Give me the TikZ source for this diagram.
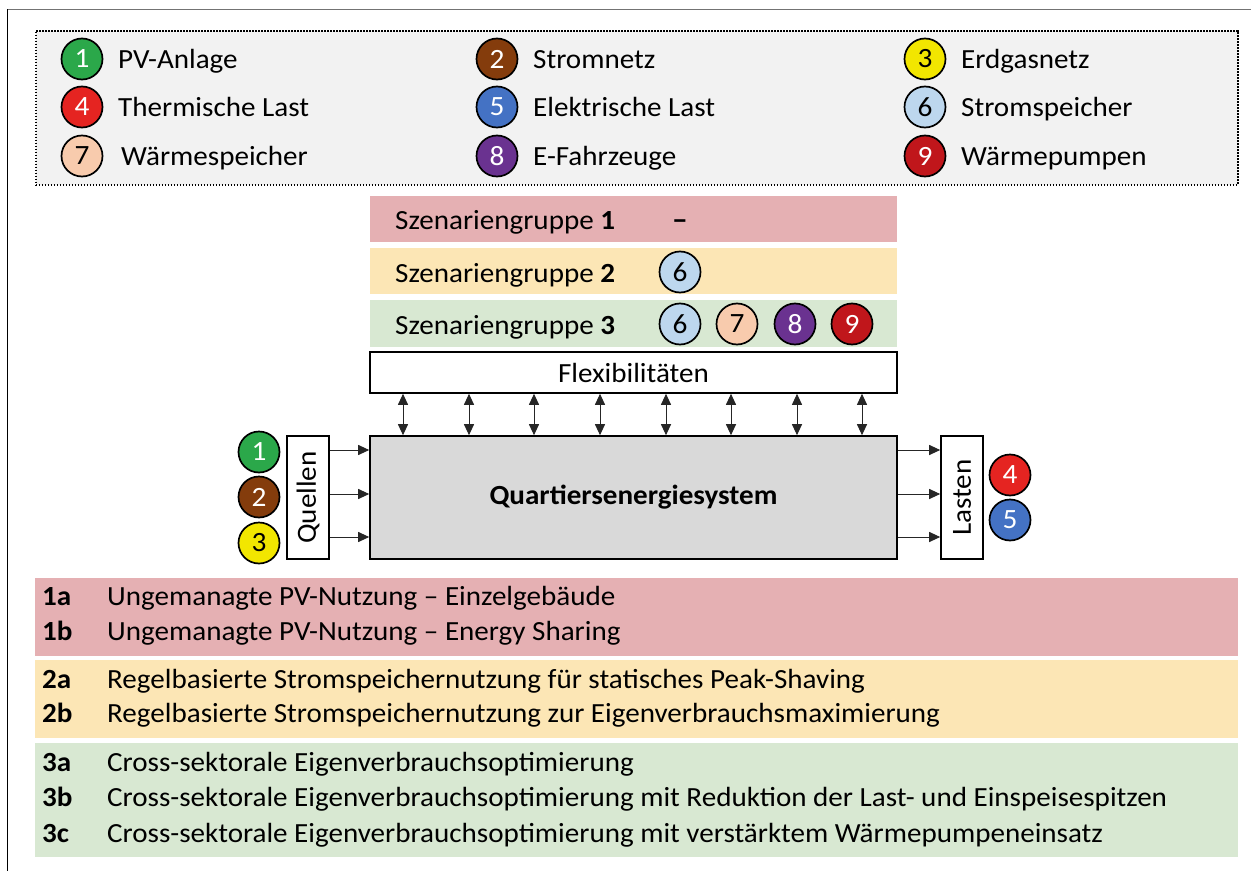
\documentclass[tikz,border=0pt]{standalone}
\usepackage{fontspec}
\setmainfont{Carlito}[FakeStretch=1.05]
\usetikzlibrary{arrows.meta}

\definecolor{cGreen}{HTML}{2BA84A}
\definecolor{cBrown}{HTML}{843C0C}
\definecolor{cYellow}{HTML}{F2E600}
\definecolor{cRed}{HTML}{E52421}
\definecolor{cBlue}{HTML}{4472C4}
\definecolor{cLightBlue}{HTML}{BDD7EE}
\definecolor{cPeach}{HTML}{F8CBAD}
\definecolor{cPurple}{HTML}{6A3290}
\definecolor{cDarkRed}{HTML}{C0161B}
\definecolor{grpOne}{HTML}{E5B0B3}
\definecolor{grpTwo}{HTML}{FCE6B5}
\definecolor{grpThree}{HTML}{D8E8D2}
\definecolor{legendBg}{HTML}{F2F2F2}
\definecolor{systemBg}{HTML}{D9D9D9}

\begin{document}
\begin{tikzpicture}[x=1bp,y=-1bp,
  num/.style={circle, draw=black, line width=1.7bp, minimum size=41bp, inner sep=0pt,
              font=\fontsize{28}{28}\selectfont},
  numw/.style={num, text=white},
  txt/.style={anchor=base west, inner sep=0pt, font=\fontsize{27.8}{30}\selectfont},
  lbl/.style={txt, font=\fontsize{27.8}{30}\selectfont\bfseries},
  band/.style={anchor=north west, inner sep=0pt, minimum width=#1},
  box/.style={draw=black, line width=1.6bp, inner sep=0pt},
  arr/.style={-{Triangle[length=11bp,width=10bp]}, line width=1bp, draw=black!85},
  darr/.style={{Triangle[length=11bp,width=10bp]}-{Triangle[length=11bp,width=10bp]}, line width=1bp, draw=black!85}
]
\useasboundingbox (0,0) rectangle (1251,871);

% frame lines
\draw[line width=1.2bp, draw=black!55] (7,9.5) -- (1251,9.5);
\draw[line width=1.2bp, draw=black] (7.5,9) -- (7.5,871);

% legend
\node[band=1202bp, minimum height=154bp, fill=legendBg, draw=black, line width=1.5bp,
      dash pattern=on 1.5bp off 1.5bp] (legend) at (35,30) {};

\node[numw, fill=cGreen]     (l1) at (82,59)  {1};
\node[numw, fill=cRed]       (l4) at (82,107) {4};
\node[num,  fill=cPeach]     (l7) at (82,156) {7};
\node[numw, fill=cBrown]     (l2) at (497,59)  {2};
\node[numw, fill=cBlue]      (l5) at (497,107) {5};
\node[numw, fill=cPurple]    (l8) at (497,156) {8};
\node[num,  fill=cYellow]    (l3) at (925,59)  {3};
\node[num,  fill=cLightBlue] (l6) at (925,107) {6};
\node[numw, fill=cDarkRed]   (l9) at (925,156) {9};

\node[txt] (t1) at (118,68)  {PV-Anlage};
\node[txt] (t4) at (118,116) {Thermische Last};
\node[txt] (t7) at (121,165) {Wärmespeicher};
\node[txt] (t2) at (533,68)  {Stromnetz};
\node[txt] (t5) at (533,116) {Elektrische Last};
\node[txt] (t8) at (533,165) {E-Fahrzeuge};
\node[txt] (t3) at (961,68)  {Erdgasnetz};
\node[txt] (t6) at (961,116) {Stromspeicher};
\node[txt] (t9) at (961,165) {Wärmepumpen};

% scenario groups
\node[band=527bp, minimum height=46bp, fill=grpOne]   (g1) at (370,196) {};
\node[band=527bp, minimum height=46bp, fill=grpTwo]   (g2) at (370,248) {};
\node[band=527bp, minimum height=47bp, fill=grpThree] (g3) at (370,300) {};

\node[txt] (g1t) at (395,229) {Szenariengruppe \textbf{1}};
\node[txt] (g2t) at (395,282) {Szenariengruppe \textbf{2}};
\node[txt] (g3t) at (395,334) {Szenariengruppe \textbf{3}};

\node[anchor=base, inner sep=0pt, font=\fontsize{30}{30}\selectfont\bfseries] (g1d) at (680,229) {–};
\node[num, fill=cLightBlue] (g2a) at (680,272) {6};
\node[num, fill=cLightBlue] (g3a) at (680,324) {6};
\node[num, fill=cPeach]     (g3b) at (737,324) {7};
\node[numw, fill=cPurple]   (g3c) at (795,324) {8};
\node[numw, fill=cDarkRed]  (g3d) at (852,324) {9};

% flexibilities and system
\node[box, fill=white, minimum width=527bp, minimum height=41bp,
      font=\fontsize{27.8}{30}\selectfont] (flex) at (633.5,372.5) {Flexibilitäten};
\node[box, fill=systemBg, minimum width=527bp, minimum height=123bp,
      font=\fontsize{27.8}{30}\selectfont\bfseries] (sys) at (633.5,497.5) {Quartiersenergiesystem};

\foreach \x [count=\i] in {403,469,534,600,666,731,797,862} {
  \path (\x,0) coordinate (fx\i);
  \draw[darr] (flex.south -| fx\i) -- (sys.north -| fx\i);
}

% sources
\node[box, fill=white, minimum width=42bp, minimum height=123bp] (quellen) at (308,497.5) {};
\node[rotate=90, inner sep=0pt, font=\fontsize{27.8}{30}\selectfont] (quellent) at (quellen.center) {Quellen};
\node[numw, fill=cGreen]  (s1) at (259,452) {1};
\node[numw, fill=cBrown]  (s2) at (259,497) {2};
\node[num,  fill=cYellow] (s3) at (259,543) {3};

% loads
\node[box, fill=white, minimum width=42bp, minimum height=123bp] (lasten) at (962,497.5) {};
\node[rotate=90, inner sep=0pt, font=\fontsize{27.8}{30}\selectfont] (lastent) at (lasten.center) {Lasten};
\node[numw, fill=cRed]  (d4) at (1010,475) {4};
\node[numw, fill=cBlue] (d5) at (1010,520) {5};

\foreach \y [count=\i] in {450,494,537} {
  \path (0,\y) coordinate (ry\i);
  \draw[arr] (quellen.east |- ry\i) -- (sys.west |- ry\i);
  \draw[arr] (sys.east |- ry\i) -- (lasten.west |- ry\i);
}

% scenario descriptions
\node[band=1203bp, minimum height=78bp, fill=grpOne]    (b1) at (35,578) {};
\node[band=1203bp, minimum height=78bp, fill=grpTwo]    (b2) at (35,660) {};
\node[band=1203bp, minimum height=114bp, fill=grpThree] (b3) at (35,743) {};

\node[lbl] (k1a) at (42,605) {1a};
\node[txt] (d1a) at (107,605) {Ungemanagte PV-Nutzung – Einzelgebäude};
\node[lbl] (k1b) at (42,640) {1b};
\node[txt] (d1b) at (107,640) {Ungemanagte PV-Nutzung – Energy Sharing};
\node[lbl] (k2a) at (42,688) {2a};
\node[txt] (d2a) at (107,688) {Regelbasierte Stromspeichernutzung für statisches Peak-Shaving};
\node[lbl] (k2b) at (42,722) {2b};
\node[txt] (d2b) at (107,722) {Regelbasierte Stromspeichernutzung zur Eigenverbrauchsmaximierung};
\node[lbl] (k3a) at (42,771) {3a};
\node[txt] (d3a) at (107,771) {Cross-sektorale Eigenverbrauchsoptimierung};
\node[lbl] (k3b) at (42,806) {3b};
\node[txt] (d3b) at (107,806) {Cross-sektorale Eigenverbrauchsoptimierung mit Reduktion der Last- und Einspeisespitzen};
\node[lbl] (k3c) at (42,842) {3c};
\node[txt] (d3c) at (107,842) {Cross-sektorale Eigenverbrauchsoptimierung mit verstärktem Wärmepumpeneinsatz};
\end{tikzpicture}
\end{document}
